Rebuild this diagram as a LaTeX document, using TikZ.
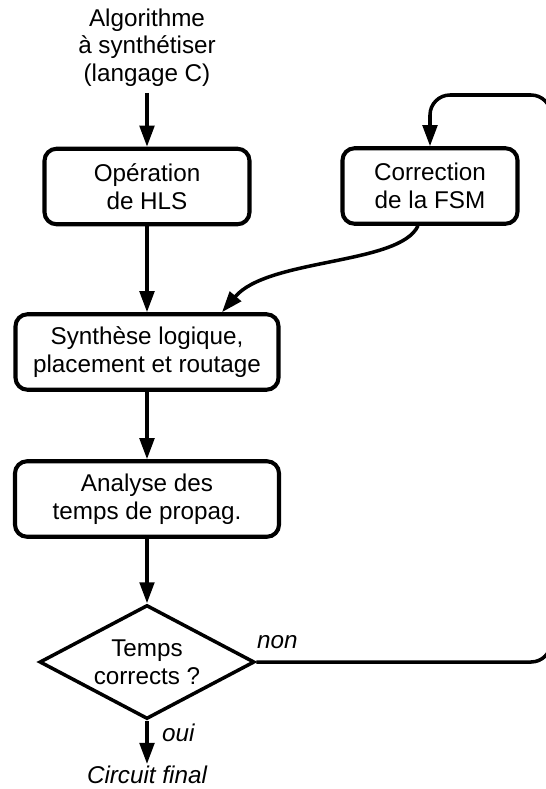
\documentclass[tikz,border=0pt]{standalone}
\usepackage{fontspec}
\setmainfont{Liberation Sans}
\usepackage{tikz}
\usetikzlibrary{positioning, arrows.meta, shapes.geometric, calc}

\begin{document}
\begin{tikzpicture}[
    arrow/.style={-{Triangle[length=4.2mm, width=2.9mm]}, line width=2pt},
    block/.style={draw, line width=2.3pt, rounded corners=2.4mm, align=center, minimum height=1.51cm, font=\fontsize{13.8}{15.8}\selectfont},
    decision/.style={draw, diamond, line width=2pt, aspect=1.89, minimum width=4.3cm, minimum height=2.28cm, inner sep=0pt, align=center, font=\fontsize{13.8}{15.8}\selectfont},
    note/.style={font=\fontsize{13.8}{15.8}\selectfont\itshape, inner sep=1pt}
]

    \useasboundingbox (0,0) rectangle (10.9,-15.78);

    % Input
    \node[align=center, font=\fontsize{13.8}{15.8}\selectfont] (algo) at (2.94,-0.95) {Algorithme\\à synthétiser\\(langage C)};

    % Blocks
    \node[block, minimum width=4.1cm] (hls) at (2.94,-3.73) {Opération\\de HLS};
    \node[block, minimum width=3.5cm] (corr) at (8.6,-3.72) {Correction\\de la FSM};
    \node[block, minimum width=5.26cm] (synth) at (2.94,-7.04) {Synthèse logique,\\placement et routage};
    \node[block, minimum width=5.28cm] (sta) at (2.94,-9.98) {Analyse des\\temps de propag.};
    \node[decision] (test) at (2.94,-13.24) {Temps\\corrects ?};
    \node[note] (final) at (2.94,-15.5) {Circuit final};

    % Answers
    \node[note, anchor=west] (no) at (5.1,-12.84) {non};
    \node[note, anchor=west] (yes) at (3.2,-14.66) {oui};

    % Main flow
    \draw[arrow] (algo) -- (hls);
    \draw[arrow] (hls) -- (synth);
    \draw[arrow] (synth) -- (sta);
    \draw[arrow] (sta) -- (test);
    \draw[arrow] (test) -- (final);

    % Feedback loop
    \coordinate (loopcorner) at (11.02,-1.9);
    \draw[arrow, rounded corners=4mm] (test.east) -- (test.east -| loopcorner) -- (loopcorner)
        -- (corr.north |- loopcorner) -- (corr.north);
    \draw[arrow] ([xshift=-2.4mm]corr.south) .. controls (8.0,-5.3) and (5.36,-5.16) .. ([xshift=15mm]synth.north);

\end{tikzpicture}
\end{document}
